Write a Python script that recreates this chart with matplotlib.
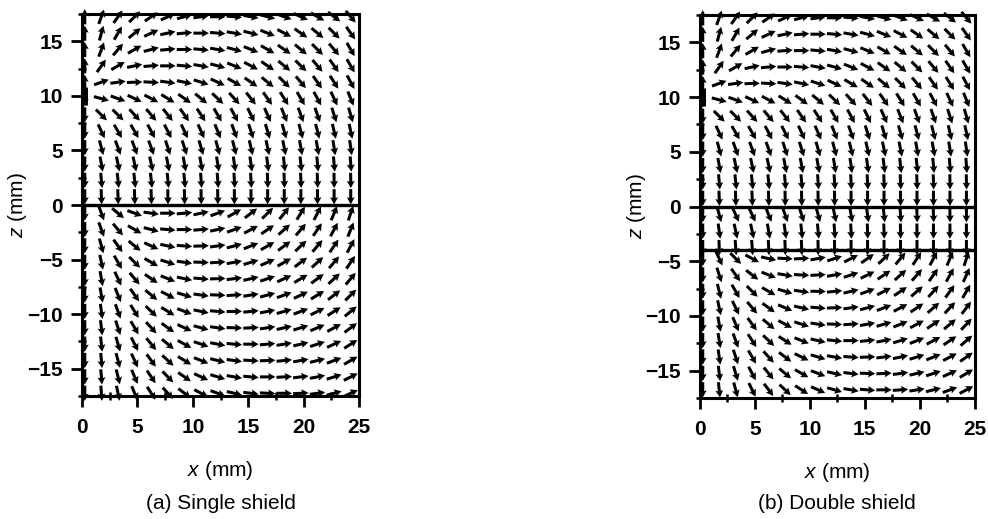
import numpy as np
import matplotlib
matplotlib.use('Agg')
from matplotlib import pyplot as plt
from matplotlib.ticker import MultipleLocator

plt.rcParams['font.family'] = ['Liberation Sans', 'DejaVu Sans']
plt.rcParams['mathtext.fontset'] = 'custom'
plt.rcParams['mathtext.it'] = 'Liberation Sans:italic'

# arrow columns (mm) and arrow directions in degrees (top to bottom)
x_cols = [0.25, 1.75, 3.25, 4.75, 6.25, 7.75, 9.25, 10.75, 12.25, 13.75,
          15.25, 16.75, 18.25, 19.75, 21.25, 22.75, 24.25]

# region above the first shield (same in both panels), z = 17.25 ... 0.75
z_upper = [17.25, 15.75, 14.25, 12.75, 11.25, 9.75, 8.25, 6.75, 5.25, 3.75, 2.25, 0.75]
ang_upper = [
    [90, 70, 55, 45, 35, 25, 15, 8, 0, -5, -10, -15, -20, -25, -30, -38, -50],
    [90, 75, 60, 40, 25, 12, 5, 0, -5, -10, -15, -22, -28, -35, -40, -45, -55],
    [90, 70, 50, 30, 15, 5, 0, -5, -10, -15, -22, -30, -35, -40, -45, -50, -60],
    [90, 55, 30, 12, 5, 0, -5, -10, -15, -22, -28, -35, -40, -45, -50, -55, -60],
    [90, 20, 8, 2, -3, -8, -12, -18, -25, -30, -35, -40, -45, -50, -55, -58, -62],
    [-90, -15, -20, -25, -28, -32, -36, -40, -44, -48, -52, -55, -58, -60, -62, -65, -68],
    [-90, -45, -45, -48, -50, -52, -55, -57, -60, -62, -64, -66, -68, -70, -71, -72, -74],
    [-90, -65, -60, -60, -62, -63, -65, -66, -68, -70, -72, -73, -74, -75, -76, -77, -78],
    [-90, -75, -70, -70, -70, -72, -72, -74, -75, -76, -77, -78, -79, -80, -80, -81, -82],
    [-90, -80, -78, -78, -78, -79, -80, -80, -81, -82, -82, -83, -84, -84, -85, -85, -86],
    [-90, -85, -84, -84, -84, -85, -85, -86, -86, -87, -87, -88, -88, -88, -88, -89, -89],
    [-90, -88, -88, -88, -88, -89, -89, -89, -89, -90, -90, -90, -90, -90, -90, -90, -90],
]

# single shield: region below z = 0
z_single_low = [-0.75, -2.25, -3.75, -5.25, -6.75, -8.25, -9.75, -11.25, -12.75, -14.25, -15.75, -17.25]
ang_single_low = [
    [-90, -70, -40, -20, -8, 0, 5, 12, 20, 30, 38, 45, 52, 58, 63, 68, 72],
    [-90, -70, -50, -30, -15, -5, 0, 5, 12, 20, 28, 35, 42, 50, 56, 62, 68],
    [-90, -75, -55, -40, -25, -12, -4, 2, 8, 15, 22, 30, 37, 44, 50, 56, 62],
    [-90, -78, -60, -45, -30, -18, -8, -2, 4, 10, 17, 24, 30, 37, 43, 50, 56],
    [-90, -80, -65, -50, -35, -22, -12, -5, 2, 7, 13, 19, 25, 31, 37, 43, 50],
    [-90, -80, -68, -55, -40, -28, -17, -8, -2, 4, 9, 15, 20, 26, 32, 38, 45],
    [-90, -82, -70, -58, -44, -32, -21, -12, -5, 1, 6, 11, 16, 21, 27, 33, 40],
    [-90, -83, -72, -60, -48, -36, -25, -15, -8, -2, 3, 8, 13, 17, 23, 29, 37],
    [-90, -84, -74, -63, -51, -40, -29, -19, -11, -5, 0, 5, 9, 13, 18, 25, 33],
    [-90, -85, -75, -65, -54, -43, -32, -22, -14, -8, -3, 2, 6, 10, 14, 21, 30],
    [-90, -85, -76, -67, -56, -46, -35, -25, -17, -10, -5, 0, 3, 7, 11, 18, 27],
    [-90, -86, -78, -68, -58, -48, -38, -28, -20, -13, -7, -3, 0, 3, 8, 15, 25],
]

# double shield: gap between the two shields (0 ... -4) and region below z = -4
z_gap = [-0.75, -2.25, -3.75]
ang_gap = [
    [-90, -75, -65, -65, -68, -70, -72, -75, -78, -80, -82, -84, -86, -88, -88, -89, -90],
    [-90, -82, -78, -78, -80, -82, -84, -85, -86, -87, -88, -88, -89, -89, -90, -90, -90],
    [-90, -88, -86, -86, -87, -88, -88, -89, -89, -90, -90, -90, -90, -90, -90, -90, -90],
]
z_double_low = [-4.75, -6.25, -7.75, -9.25, -10.75, -12.25, -13.75, -15.25, -16.75]
ang_double_low = [
    [-90, -65, -45, -28, -12, -3, 3, 10, 18, 27, 35, 43, 50, 57, 62, 67, 72],
    [-90, -72, -55, -38, -22, -10, -3, 3, 10, 18, 26, 34, 42, 49, 55, 61, 66],
    [-90, -76, -60, -45, -30, -17, -8, -1, 6, 13, 20, 27, 34, 41, 48, 54, 60],
    [-90, -78, -64, -50, -36, -23, -13, -5, 2, 8, 15, 21, 28, 34, 41, 47, 53],
    [-90, -80, -67, -54, -40, -28, -18, -9, -2, 4, 10, 16, 22, 28, 34, 40, 47],
    [-90, -81, -70, -57, -44, -33, -22, -13, -6, 0, 6, 11, 17, 22, 28, 34, 41],
    [-90, -82, -72, -60, -48, -37, -26, -17, -10, -4, 2, 7, 12, 17, 22, 28, 35],
    [-90, -83, -73, -62, -51, -40, -30, -21, -13, -7, -2, 3, 8, 13, 18, 24, 31],
    [-90, -84, -75, -64, -53, -43, -33, -24, -16, -10, -5, 0, 4, 9, 14, 20, 28],
]

source_z = 10  # the small source sitting on the z axis
single_shields = [0]
double_shields = [0, -4]
captions = ['(a) Single shield', '(b) Double shield']

ARROW_LEN = 1.4  # mm


def draw_field(ax, z_rows, angles):
    X, Z = np.meshgrid(x_cols, z_rows)
    a = np.radians(np.array(angles, dtype=float))
    ax.quiver(X, Z, np.cos(a), np.sin(a), angles='xy', scale_units='xy',
              scale=1 / ARROW_LEN, pivot='middle', width=0.011,
              headwidth=2.6, headlength=2.4, headaxislength=2.1,
              color='black', zorder=3, clip_on=False)


def style_axes(ax):
    ax.set_xlim(0, 25)
    ax.set_ylim(-17.5, 17.5)
    ax.xaxis.set_major_locator(MultipleLocator(5))
    ax.xaxis.set_minor_locator(MultipleLocator(2.5))
    ax.yaxis.set_major_locator(MultipleLocator(5))
    ax.yaxis.set_minor_locator(MultipleLocator(2.5))
    ax.tick_params(which='major', direction='out', length=8, width=2.0,
                   labelsize=15, pad=6)
    ax.tick_params(axis='x', which='major', pad=8)
    ax.tick_params(which='minor', direction='inout', length=6, width=1.8)
    for lab in ax.get_xticklabels() + ax.get_yticklabels():
        lab.set_fontweight('bold')
    for sp in ax.spines.values():
        sp.set_linewidth(2.2)
    ax.set_xlabel(r'$\mathit{x}$ (mm)', fontsize=15)
    ax.set_ylabel(r'$\mathit{z}$ (mm)', fontsize=15)
    ax.xaxis.set_label_coords(0.5, -0.165)
    ax.yaxis.set_label_coords(-0.19, 0.5)
    # source mark on the axis
    ax.plot([0.15, 0.15], [source_z - 0.8, source_z + 0.8], color='black',
            lw=5, solid_capstyle='butt', zorder=5, clip_on=False)


fig = plt.figure(figsize=(9.88, 5.19), dpi=100)
ax1 = fig.add_axes([0.083, 0.237, 0.2804, 0.736])
ax2 = fig.add_axes([0.7085, 0.233, 0.278, 0.738])

# (a) single shield
draw_field(ax1, z_upper, ang_upper)
draw_field(ax1, z_single_low, ang_single_low)
for zs in single_shields:
    ax1.axhline(zs, color='black', lw=2.4, zorder=4)

# (b) double shield
draw_field(ax2, z_upper, ang_upper)
draw_field(ax2, z_gap, ang_gap)
draw_field(ax2, z_double_low, ang_double_low)
for zs in double_shields:
    ax2.axhline(zs, color='black', lw=2.4, zorder=4)

for ax, cap in zip([ax1, ax2], captions):
    style_axes(ax)
    pos = ax.get_position()
    fig.text((pos.x0 + pos.x1) / 2, 0.012, cap, ha='center', va='bottom', fontsize=15)

fig.savefig('out.png', dpi=100)
